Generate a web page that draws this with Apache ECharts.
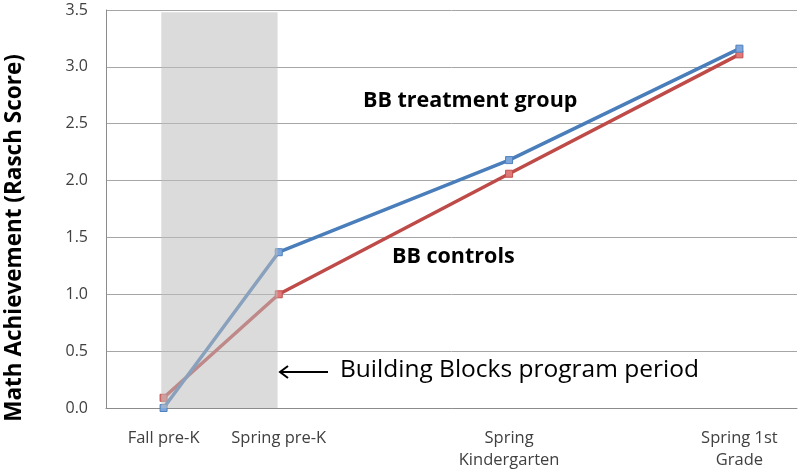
<!DOCTYPE html>
<html>
<head>
<meta charset="utf-8">
<script src="https://cdn.jsdelivr.net/npm/echarts@6/dist/echarts.min.js"></script>
<style>html,body{margin:0;padding:0;background:#fff}#c{width:800px;height:471px}</style>
</head>
<body>
<div id="c"></div>
<script>
// Data
const categories = ['Fall pre-K', 'Spring pre-K', 'Spring\nKindergarten', 'Spring 1st\nGrade'];
const timePoints = [0, 1, 3, 5]; // semesters since Fall pre-K
const treatment = [0.00, 1.37, 2.18, 3.16];
const controls = [0.09, 1.00, 2.06, 3.11];
const yTicks = [0, 0.5, 1, 1.5, 2, 2.5, 3, 3.5];
const programPeriod = [0, 1];

const FONT = '"Open Sans", Lato, sans-serif';
const chart = echarts.init(document.getElementById('c'), null, {renderer: 'canvas'});

const labelMap = {};
timePoints.forEach((t, i) => { labelMap[t] = categories[i]; });

function pairs(vals) { return vals.map((v, i) => [timePoints[i], v]); }

chart.setOption({
  animation: false,
  backgroundColor: '#ffffff',
  grid: {left: 106, right: 3, top: 10, bottom: 63},
  xAxis: {
    type: 'value', min: -0.5, max: 5.5, interval: 0.5,
    axisLine: {show: true, onZero: false, lineStyle: {color: '#8c8c8c', width: 1}},
    axisTick: {show: false},
    splitLine: {show: false},
    axisLabel: {
      color: '#404040', fontFamily: FONT, fontSize: 16.5, margin: 19, lineHeight: 22,
      showMinLabel: false, showMaxLabel: false,
      formatter: v => labelMap[v] !== undefined ? labelMap[v] : ''
    }
  },
  yAxis: {
    type: 'value', min: yTicks[0], max: yTicks[yTicks.length - 1], interval: 0.5,
    axisLine: {show: true, onZero: false, lineStyle: {color: '#8c8c8c', width: 1}},
    axisTick: {show: false},
    splitLine: {show: true, lineStyle: {color: '#a6a6a6', width: 1}},
    axisLabel: {
      color: '#404040', fontFamily: FONT, fontSize: 16, margin: 18,
      formatter: v => v.toFixed(1)
    }
  },
  series: [
    {
      type: 'line', name: 'BB controls', data: pairs(controls), z: 2,
      symbol: 'rect', symbolSize: 7,
      lineStyle: {color: '#be4b48', width: 3.5},
      itemStyle: {color: '#e07a78', borderColor: '#c0504d', borderWidth: 1}
    },
    {
      type: 'line', name: 'BB treatment group', data: pairs(treatment), z: 3,
      symbol: 'rect', symbolSize: 7,
      lineStyle: {color: '#4a7ebb', width: 3.5},
      itemStyle: {color: '#7ea6db', borderColor: '#4f81bd', borderWidth: 1}
    },
    {
      type: 'line', data: [], z: 5, silent: true,
      markArea: {
        silent: true, z: 5,
        itemStyle: {color: 'rgba(190,190,190,0.55)'},
        data: [[{coord: [programPeriod[0] - 0.02, 0]}, {coord: [programPeriod[1] - 0.01, 3.48]}]]
      }
    }
  ],
  graphic: [
    {type: 'text', z: 10, x: 15, y: 238, rotation: Math.PI / 2,
     style: {text: 'Math Achievement (Rasch Score)', font: 'bold 22.5px ' + FONT, fill: '#000', align: 'center', verticalAlign: 'middle'}},
    {type: 'text', z: 10, x: 363, y: 101,
     style: {text: 'BB treatment group', font: 'bold 21.5px ' + FONT, fill: '#000', verticalAlign: 'middle'}},
    {type: 'text', z: 10, x: 392, y: 257,
     style: {text: 'BB controls', font: 'bold 21.5px ' + FONT, fill: '#000', verticalAlign: 'middle'}},
    {type: 'text', z: 10, x: 340, y: 370,
     style: {text: 'Building Blocks program period', font: '24.5px ' + FONT, fill: '#000', verticalAlign: 'middle'}},
    {type: 'line', z: 10, shape: {x1: 280, y1: 372, x2: 328, y2: 372}, style: {stroke: '#000', lineWidth: 2}},
    {type: 'polyline', z: 10, shape: {points: [[288, 366], [280, 372], [288, 378]]}, style: {stroke: '#000', lineWidth: 2, fill: null}}
  ]
});
</script>
</body>
</html>
